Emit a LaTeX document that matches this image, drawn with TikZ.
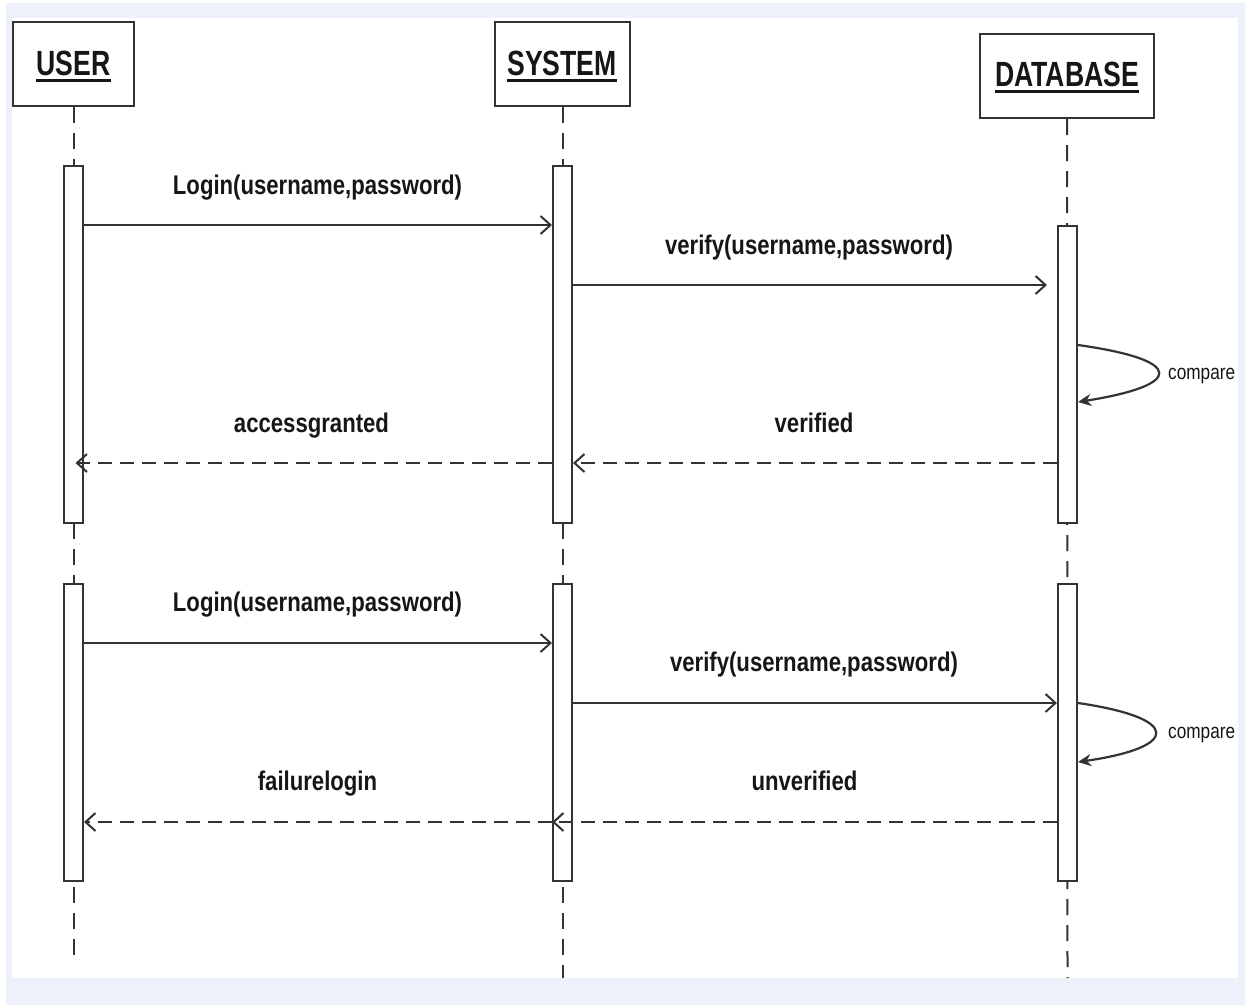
\documentclass[tikz,border=0pt]{standalone}
\usepackage{fontspec}
\setmainfont{Liberation Sans}
\newfontfamily\lblfont[FakeStretch=0.82]{Liberation Sans}
\newfontfamily\headfont[FakeStretch=0.76]{Liberation Sans}
\usetikzlibrary{arrows.meta,calc}
\definecolor{bgblue}{HTML}{EDF2FA}
\definecolor{linec}{HTML}{333333}
\definecolor{textc}{HTML}{161616}
\begin{document}
\begin{tikzpicture}[x=1pt,y=-1pt,
  headbox/.style={draw=linec, line width=2pt, fill=white, minimum width=#1, minimum height=84pt, inner sep=0pt},
  headtxt/.style={font=\headfont\bfseries\fontsize{35}{38}\selectfont, inner sep=0pt, anchor=base, text=textc},
  ul/.style={draw=textc, line width=3pt},
  act/.style={draw=linec, line width=2pt, fill=white, minimum width=19pt, minimum height=#1, inner sep=0pt},
  life/.style={draw=linec, line width=2pt, dash pattern=on 16pt off 10pt},
  msg/.style={draw=linec, line width=2.2pt, -{Straight Barb[length=10pt,width=18pt,line width=2pt]}},
  ret/.style={msg, dash pattern=on 14pt off 8pt},
  selfmsg/.style={draw=linec, line width=2.2pt, -{Stealth[length=13pt,width=12pt]}},
  lbl/.style={font=\lblfont\bfseries\fontsize{27}{30}\selectfont, inner sep=0pt, anchor=base, text=textc},
  cmp/.style={font=\lblfont\fontsize{21}{24}\selectfont, inner sep=0pt, anchor=base west, text=textc}
]
\useasboundingbox (0,0) rectangle (1245,1005);
\fill[bgblue] (0,0) rectangle (1245,1005);
\fill[white] (0,0) rectangle (6,1005);
\fill[white] (0,0) rectangle (1245,3);
\fill[white] (12,18) rectangle (1238,978);

% heads
\node[headbox=121pt] (user) at (73.5,64) {};
\node[headbox=135pt] (sys) at (562.5,64) {};
\node[headbox=174pt] (db) at (1067,76) {};
\node[headtxt] (usert) at (73.5,75) {USER};
\node[headtxt] (syst) at (562,75) {SYSTEM};
\node[headtxt] (dbt) at (1067,86) {DATABASE};
\foreach \n in {usert,syst,dbt}
  \draw[ul] ([yshift=-5pt]\n.base west) -- ([yshift=-5pt]\n.base east);

% lifelines
\coordinate (uend) at (73.5,955);
\coordinate (send) at (562.5,978);
\coordinate (dend) at (1067.5,978);
\draw[life] (user.south) -- (uend);
\draw[life] (sys.south) -- (send);
\draw[life] (db.south) -- (dend);

% activations
\node[act=357pt] (ua1) at (73.5,344.5) {};
\node[act=357pt] (sa1) at (562.5,344.5) {};
\node[act=297pt] (da1) at (1067.5,374.5) {};
\node[act=297pt] (ua2) at (73.5,732.5) {};
\node[act=297pt] (sa2) at (562.5,732.5) {};
\node[act=297pt] (da2) at (1067.5,732.5) {};

% first scenario
\draw[msg] (ua1.east |- 0,225) -- (sa1.west |- 0,225);
\node[lbl] (l1) at (317.5,194) {Login(username,password)};
\draw[msg] (sa1.east |- 0,285) -- ([xshift=-10pt]da1.west |- 0,285);
\node[lbl] (l2) at (809,254) {verify(username,password)};
\draw[selfmsg] (da1.east |- 0,345) .. controls (1185,360) and (1185,385) .. (da1.east |- 0,402);
\node[cmp] (c1) at (1168,379) {compare};
\draw[ret] (da1.west |- 0,463) -- (sa1.east |- 0,463);
\node[lbl] (l3) at (814,432) {verified};
\draw[ret] (sa1.west |- 0,463) -- ([xshift=2pt]ua1.center |- 0,463);
\node[lbl] (l4) at (311.5,432) {accessgranted};

% second scenario
\draw[msg] (ua2.east |- 0,643) -- (sa2.west |- 0,643);
\node[lbl] (l5) at (317.5,611) {Login(username,password)};
\draw[msg] (sa2.east |- 0,703) -- (da2.west |- 0,703);
\node[lbl] (l6) at (814,671) {verify(username,password)};
\draw[selfmsg] (da2.east |- 0,703) .. controls (1181,718) and (1181,747) .. (da2.east |- 0,762);
\node[cmp] (c2) at (1168,738) {compare};
\draw[ret] (da2.west |- 0,822) -- (sa2.west |- 0,822);
\node[lbl] (l7) at (804.5,790) {unverified};
\draw[ret] (sa2.west |- 0,822) -- (ua2.east |- 0,822);
\node[lbl] (l8) at (317.5,790) {failurelogin};
\end{tikzpicture}
\end{document}
